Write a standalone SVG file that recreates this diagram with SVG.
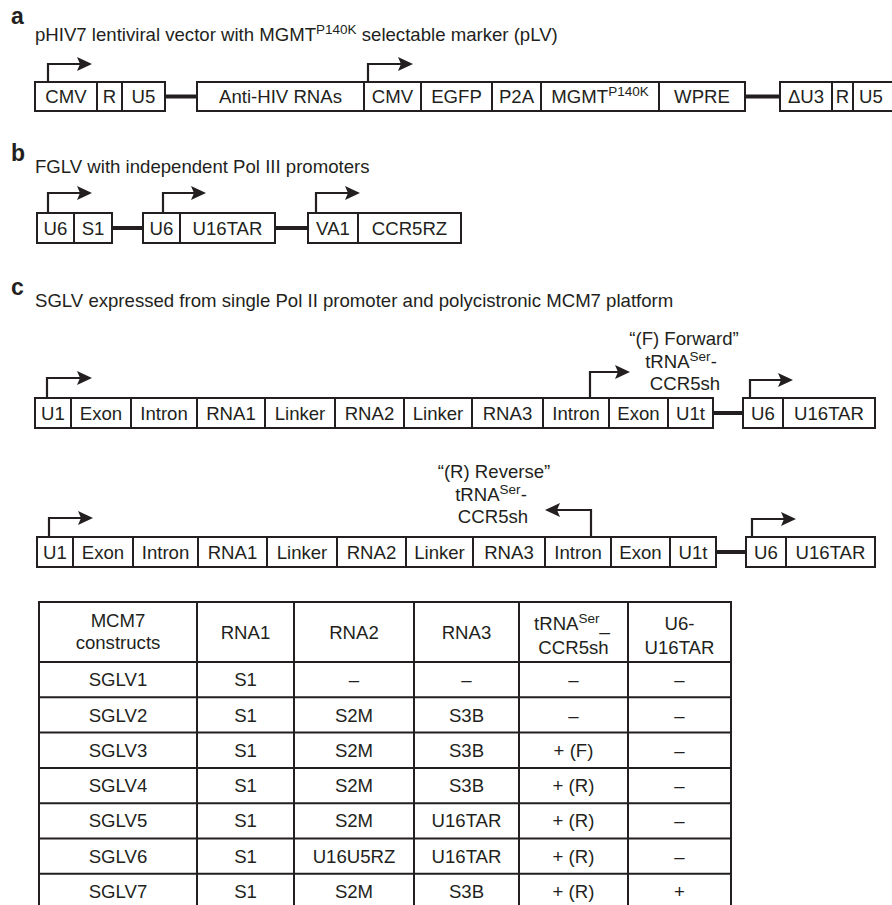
<svg xmlns="http://www.w3.org/2000/svg" width="892" height="905" viewBox="0 0 892 905">
<defs>
<style>
.t{font-family:"Liberation Sans",Arial,Helvetica,sans-serif;font-size:18.6px;fill:#231f20;text-anchor:middle}
.s{text-anchor:start}
.lbl{font-family:"Liberation Sans",Arial,Helvetica,sans-serif;font-size:23px;font-weight:bold;fill:#231f20}
.b{fill:#fff;stroke:#231f20;stroke-width:2}
.ln{stroke:#231f20;stroke-width:4;fill:none}
.pr{fill:none;stroke:#231f20;stroke-width:2.2;marker-end:url(#ah)}
.g{stroke:#231f20;stroke-width:2;fill:none}
</style>
<marker id="ah" markerUnits="userSpaceOnUse" markerWidth="16" markerHeight="14" refX="3" refY="7" orient="auto">
<path d="M0,0 L15,7 L0,14 L3,7 Z" fill="#231f20"/>
</marker>
</defs>
<rect width="892" height="905" fill="#fff"/>

<!-- Panel a -->
<text class="lbl" x="11" y="24">a</text>
<text class="t s" x="35" y="41">pHIV7 lentiviral vector with MGMT<tspan dy="-7" font-size="13.5">P140K</tspan><tspan dy="7"> selectable marker (pLV)</tspan></text>
<g id="a-cmv1"><rect class="b" x="35" y="82" width="62" height="29"/><text class="t" x="66" y="103">CMV</text></g>
<g id="a-r1"><rect class="b" x="97" y="82" width="25" height="29"/><text class="t" x="109.5" y="103">R</text></g>
<g id="a-u51"><rect class="b" x="122" y="82" width="43" height="29"/><text class="t" x="143.5" y="103">U5</text></g>
<g id="a-anti"><rect class="b" x="197" y="82" width="167" height="29"/><text class="t" x="280.5" y="103">Anti-HIV RNAs</text></g>
<g id="a-cmv2"><rect class="b" x="364" y="82" width="57" height="29"/><text class="t" x="392.5" y="103">CMV</text></g>
<g id="a-egfp"><rect class="b" x="421" y="82" width="71" height="29"/><text class="t" x="456.5" y="103">EGFP</text></g>
<g id="a-p2a"><rect class="b" x="492" y="82" width="49" height="29"/><text class="t" x="516.5" y="103">P2A</text></g>
<g id="a-mgmt"><rect class="b" x="541" y="82" width="118" height="29"/><text class="t" x="600" y="103">MGMT<tspan dy="-7" font-size="13.5">P140K</tspan></text></g>
<g id="a-wpre"><rect class="b" x="659" y="82" width="86" height="29"/><text class="t" x="702" y="103">WPRE</text></g>
<g id="a-du3"><rect class="b" x="780" y="82" width="52" height="29"/><text class="t" x="806" y="103">ΔU3</text></g>
<g id="a-r2"><rect class="b" x="832" y="82" width="21" height="29"/><text class="t" x="842.5" y="103">R</text></g>
<g id="a-u52"><rect class="b" x="853" y="82" width="50" height="29"/><text class="t" x="871" y="103">U5</text></g>

<!-- Panel b -->
<text class="lbl" x="11" y="161">b</text>
<text class="t s" x="35" y="173">FGLV with independent Pol III promoters</text>
<g id="b-u6a"><rect class="b" x="37" y="213" width="37" height="30"/><text class="t" x="55.5" y="234.5">U6</text></g>
<g id="b-s1"><rect class="b" x="74" y="213" width="38" height="30"/><text class="t" x="93" y="234.5">S1</text></g>
<g id="b-u6b"><rect class="b" x="143" y="213" width="37" height="30"/><text class="t" x="161.5" y="234.5">U6</text></g>
<g id="b-u16tar"><rect class="b" x="180" y="213" width="95" height="30"/><text class="t" x="227.5" y="234.5">U16TAR</text></g>
<g id="b-va1"><rect class="b" x="308" y="213" width="50" height="30"/><text class="t" x="333" y="234.5">VA1</text></g>
<g id="b-ccr5rz"><rect class="b" x="358" y="213" width="103" height="30"/><text class="t" x="409.5" y="234.5">CCR5RZ</text></g>

<!-- Panel c -->
<text class="lbl" x="11" y="295">c</text>
<text class="t s" x="35" y="307">SGLV expressed from single Pol II promoter and polycistronic MCM7 platform</text>

<text class="t" x="684" y="345">“(F) Forward”</text>
<text class="t" x="681" y="368">tRNA<tspan dy="-7" font-size="13.5">Ser</tspan><tspan dy="7">-</tspan></text>
<text class="t" x="685" y="390">CCR5sh</text>

<g id="c1-u1"><rect class="b" x="35" y="398" width="36" height="30"/><text class="t" x="53" y="419.5">U1</text></g>
<g id="c1-exon1"><rect class="b" x="71" y="398" width="60" height="30"/><text class="t" x="101" y="419.5">Exon</text></g>
<g id="c1-intron1"><rect class="b" x="131" y="398" width="66" height="30"/><text class="t" x="164" y="419.5">Intron</text></g>
<g id="c1-rna1"><rect class="b" x="197" y="398" width="68" height="30"/><text class="t" x="231" y="419.5">RNA1</text></g>
<g id="c1-linker1"><rect class="b" x="265" y="398" width="70" height="30"/><text class="t" x="300" y="419.5">Linker</text></g>
<g id="c1-rna2"><rect class="b" x="335" y="398" width="69" height="30"/><text class="t" x="369.5" y="419.5">RNA2</text></g>
<g id="c1-linker2"><rect class="b" x="404" y="398" width="68" height="30"/><text class="t" x="438" y="419.5">Linker</text></g>
<g id="c1-rna3"><rect class="b" x="472" y="398" width="71" height="30"/><text class="t" x="507.5" y="419.5">RNA3</text></g>
<g id="c1-intron2"><rect class="b" x="543" y="398" width="66" height="30"/><text class="t" x="576" y="419.5">Intron</text></g>
<g id="c1-exon2"><rect class="b" x="609" y="398" width="59" height="30"/><text class="t" x="638.5" y="419.5">Exon</text></g>
<g id="c1-u1t"><rect class="b" x="668" y="398" width="45" height="30"/><text class="t" x="690.5" y="419.5">U1t</text></g>
<g id="c1-u6"><rect class="b" x="743" y="398" width="40" height="30"/><text class="t" x="763" y="419.5">U6</text></g>
<g id="c1-u16tar"><rect class="b" x="783" y="398" width="92" height="30"/><text class="t" x="829" y="419.5">U16TAR</text></g>

<text class="t" x="494" y="478">“(R) Reverse”</text>
<text class="t" x="491" y="501">tRNA<tspan dy="-7" font-size="13.5">Ser</tspan><tspan dy="7">-</tspan></text>
<text class="t" x="493" y="523">CCR5sh</text>

<g id="c2-u1"><rect class="b" x="37" y="537" width="36" height="30"/><text class="t" x="55" y="558.5">U1</text></g>
<g id="c2-exon1"><rect class="b" x="73" y="537" width="60" height="30"/><text class="t" x="103" y="558.5">Exon</text></g>
<g id="c2-intron1"><rect class="b" x="133" y="537" width="65" height="30"/><text class="t" x="165.5" y="558.5">Intron</text></g>
<g id="c2-rna1"><rect class="b" x="198" y="537" width="69" height="30"/><text class="t" x="232.5" y="558.5">RNA1</text></g>
<g id="c2-linker1"><rect class="b" x="267" y="537" width="70" height="30"/><text class="t" x="302" y="558.5">Linker</text></g>
<g id="c2-rna2"><rect class="b" x="337" y="537" width="69" height="30"/><text class="t" x="371.5" y="558.5">RNA2</text></g>
<g id="c2-linker2"><rect class="b" x="406" y="537" width="67" height="30"/><text class="t" x="439.5" y="558.5">Linker</text></g>
<g id="c2-rna3"><rect class="b" x="473" y="537" width="72" height="30"/><text class="t" x="509" y="558.5">RNA3</text></g>
<g id="c2-intron2"><rect class="b" x="545" y="537" width="66" height="30"/><text class="t" x="578" y="558.5">Intron</text></g>
<g id="c2-exon2"><rect class="b" x="611" y="537" width="59" height="30"/><text class="t" x="640.5" y="558.5">Exon</text></g>
<g id="c2-u1t"><rect class="b" x="670" y="537" width="46" height="30"/><text class="t" x="693" y="558.5">U1t</text></g>
<g id="c2-u6"><rect class="b" x="746" y="537" width="40" height="30"/><text class="t" x="766" y="558.5">U6</text></g>
<g id="c2-u16tar"><rect class="b" x="786" y="537" width="89" height="30"/><text class="t" x="830.5" y="558.5">U16TAR</text></g>

<!-- Connectors and promoter arrows -->
<g id="connectors">
<line class="ln" x1="165" y1="96.5" x2="197" y2="96.5"/>
<line class="ln" x1="745" y1="96.5" x2="780" y2="96.5"/>
<line class="ln" x1="112" y1="228" x2="143" y2="228"/>
<line class="ln" x1="275" y1="228" x2="308" y2="228"/>
<line class="ln" x1="713" y1="413" x2="743" y2="413"/>
<line class="ln" x1="716" y1="552" x2="746" y2="552"/>
<path class="pr" d="M48,82 V64 H80"/>
<path class="pr" d="M368,82 V64 H401"/>
<path class="pr" d="M48,213 V193 H80"/>
<path class="pr" d="M163,213 V193 H194"/>
<path class="pr" d="M316,213 V193 H348"/>
<path class="pr" d="M47,398 V378 H80"/>
<path class="pr" d="M590,398 V372 H618"/>
<path class="pr" d="M750,398 V380 H781"/>
<path class="pr" d="M49,537 V518 H81"/>
<path class="pr" d="M591,537 V510 H557"/>
<path class="pr" d="M752,537 V519 H784"/>
</g>

<!-- Table -->
<g id="table">
<g class="g">
<line x1="39" y1="602" x2="731" y2="602"/>
<line x1="39" y1="662" x2="731" y2="662"/>
<line x1="39" y1="697.3" x2="731" y2="697.3"/>
<line x1="39" y1="732.6" x2="731" y2="732.6"/>
<line x1="39" y1="767.9" x2="731" y2="767.9"/>
<line x1="39" y1="803.2" x2="731" y2="803.2"/>
<line x1="39" y1="838.5" x2="731" y2="838.5"/>
<line x1="39" y1="873.8" x2="731" y2="873.8"/>
<line x1="39" y1="601" x2="39" y2="905"/>
<line x1="197" y1="601" x2="197" y2="905"/>
<line x1="294" y1="601" x2="294" y2="905"/>
<line x1="414" y1="601" x2="414" y2="905"/>
<line x1="519" y1="601" x2="519" y2="905"/>
<line x1="628" y1="601" x2="628" y2="905"/>
<line x1="731" y1="601" x2="731" y2="905"/>
</g>
<text class="t" x="118" y="627">MCM7</text>
<text class="t" x="118" y="649">constructs</text>
<text class="t" x="245.5" y="639">RNA1</text>
<text class="t" x="354" y="639">RNA2</text>
<text class="t" x="466.5" y="639">RNA3</text>
<text class="t" x="572" y="630">tRNA<tspan dy="-7" font-size="13.5">Ser</tspan><tspan dy="7">_</tspan></text>
<text class="t" x="573.5" y="654">CCR5sh</text>
<text class="t" x="679.5" y="630">U6-</text>
<text class="t" x="679.5" y="654">U16TAR</text>

<text class="t" x="118" y="686">SGLV1</text><text class="t" x="245.5" y="686">S1</text><text class="t" x="354" y="686">–</text><text class="t" x="466.5" y="686">–</text><text class="t" x="573.5" y="686">–</text><text class="t" x="679.5" y="686">–</text>
<text class="t" x="118" y="721.5">SGLV2</text><text class="t" x="245.5" y="721.5">S1</text><text class="t" x="354" y="721.5">S2M</text><text class="t" x="466.5" y="721.5">S3B</text><text class="t" x="573.5" y="721.5">–</text><text class="t" x="679.5" y="721.5">–</text>
<text class="t" x="118" y="756.8">SGLV3</text><text class="t" x="245.5" y="756.8">S1</text><text class="t" x="354" y="756.8">S2M</text><text class="t" x="466.5" y="756.8">S3B</text><text class="t" x="573.5" y="756.8">+ (F)</text><text class="t" x="679.5" y="756.8">–</text>
<text class="t" x="118" y="792.1">SGLV4</text><text class="t" x="245.5" y="792.1">S1</text><text class="t" x="354" y="792.1">S2M</text><text class="t" x="466.5" y="792.1">S3B</text><text class="t" x="573.5" y="792.1">+ (R)</text><text class="t" x="679.5" y="792.1">–</text>
<text class="t" x="118" y="827.4">SGLV5</text><text class="t" x="245.5" y="827.4">S1</text><text class="t" x="354" y="827.4">S2M</text><text class="t" x="466.5" y="827.4">U16TAR</text><text class="t" x="573.5" y="827.4">+ (R)</text><text class="t" x="679.5" y="827.4">–</text>
<text class="t" x="118" y="862.7">SGLV6</text><text class="t" x="245.5" y="862.7">S1</text><text class="t" x="354" y="862.7">U16U5RZ</text><text class="t" x="466.5" y="862.7">U16TAR</text><text class="t" x="573.5" y="862.7">+ (R)</text><text class="t" x="679.5" y="862.7">–</text>
<text class="t" x="118" y="898">SGLV7</text><text class="t" x="245.5" y="898">S1</text><text class="t" x="354" y="898">S2M</text><text class="t" x="466.5" y="898">S3B</text><text class="t" x="573.5" y="898">+ (R)</text><text class="t" x="679.5" y="898">+</text>
</g>
</svg>
